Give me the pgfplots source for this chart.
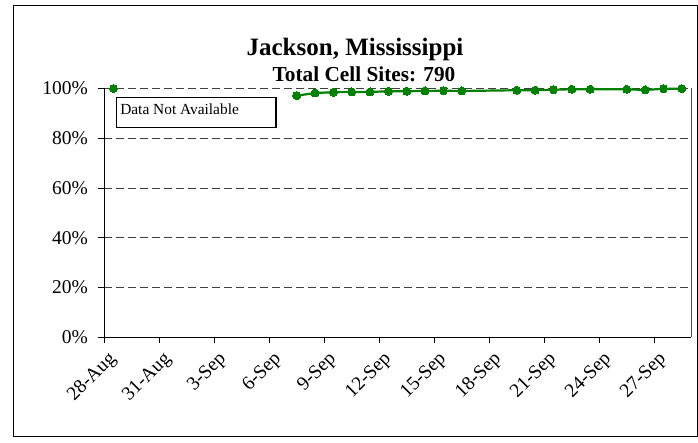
\documentclass[border=0pt]{standalone}
\usepackage{fontspec}
\setmainfont{Liberation Serif}
\usepackage{pgfplots}
\pgfplotsset{compat=1.18}
\definecolor{xlgreen}{RGB}{0,128,0}

\begin{document}
\begin{tikzpicture}[x=1pt,y=1pt]
  \useasboundingbox (0,0) rectangle (698,443);
  \draw[line width=1pt] (13,6) rectangle (697,437);
  % titles
  \node[font=\fontsize{25}{28}\selectfont\bfseries, anchor=base] at (355,387) {Jackson, Mississippi};
  \node[font=\fontsize{21.3}{24}\selectfont\bfseries, anchor=base] at (364,361) {Total Cell Sites: 790};

  \begin{axis}[
      at={(104.3pt,105.7pt)}, anchor=south west,
      scale only axis,
      width=586.7pt, height=248.8pt,
      xmin=0, xmax=32, ymin=0, ymax=100,
      axis lines=left,
      axis line style={-, line width=1pt, black},
      clip=false,
      xtick={0,3,...,30},
      xticklabels={28-Aug,31-Aug,3-Sep,6-Sep,9-Sep,12-Sep,15-Sep,18-Sep,21-Sep,24-Sep,27-Sep},
      ytick={0,20,...,100},
      yticklabel={\pgfmathprintnumber{\tick}\%},
      /pgf/number format/assume math mode=true,
      tick align=outside,
      major tick length=6pt,
      tick style={black, line width=1pt},
      ymajorgrids,
      grid style={black!75, line width=0.8pt, dash pattern=on 8pt off 4pt},
      ticklabel style={font=\fontsize{19.5}{22}\selectfont},
      yticklabel style={xshift=-7pt},
      xticklabel style={xshift=3pt, yshift=-4pt, rotate=45, anchor=north east, inner sep=2pt},
      unbounded coords=jump,
    ]
    \draw[black!70, line width=1pt] (axis cs:32,0) -- (axis cs:32,100);
    \addplot[xlgreen, line width=2.2pt, mark=*, mark size=4pt,
             mark options={fill=xlgreen, draw=xlgreen, line width=0pt}] coordinates {
      (0.5,100) (5,nan)
      (10.5,97.1) (11.5,98.2) (12.5,98.5) (13.5,98.6) (14.5,98.6)
      (15.5,98.9) (16.5,98.9) (17.5,99.0) (18.5,99.1) (19.5,99.0)
      (22.5,99.3) (23.5,99.3) (24.5,99.5) (25.5,99.7) (26.5,99.7)
      (28.5,99.7) (29.5,99.4) (30.5,99.9) (31.5,99.9)
    };
    \draw[black, line width=1.3pt] (axis cs:0.68,96.5) rectangle (axis cs:9.37,84.2);
    \node[anchor=west, inner sep=0pt, font=\fontsize{15.4}{18}\selectfont]
      at (axis cs:0.86,91.5) {Data Not Available};
  \end{axis}
\end{tikzpicture}
\end{document}
